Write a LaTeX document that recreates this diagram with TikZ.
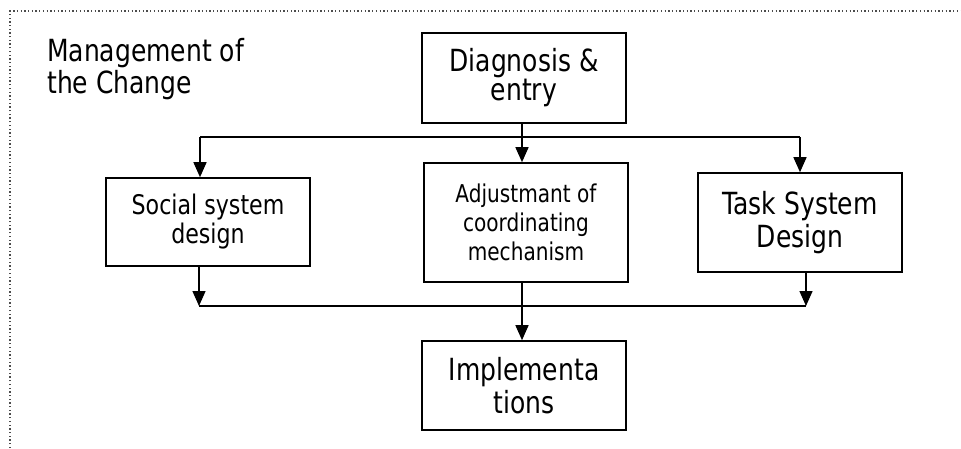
\documentclass[tikz,border=0pt]{standalone}
\usepackage{fontspec}
\setmainfont{DejaVu Sans}[FakeStretch=0.82]
\usetikzlibrary{arrows.meta}
\tikzset{
  box/.style={draw=black, line width=1.6pt, rectangle, inner sep=0pt, align=center, text=black},
  conn/.style={draw=black, line width=1.4pt},
  arr/.style={conn, -{Triangle[width=13pt,length=15pt]}},
  border/.style={draw=black!70, line width=1.3pt, dash pattern=on 1.3pt off 2.4pt},
}
\begin{document}
\begin{tikzpicture}[x=1pt,y=-1pt]
\useasboundingbox (0,0) rectangle (961,448);
\draw[border] (10,448) -- (10,11) -- (961,11);

\node[anchor=north west, inner sep=0pt, align=left, font=\fontsize{30.5}{32}\selectfont] (title) at (47,38) {Management of\\the Change};

\node[box, minimum width=204pt, minimum height=90pt, font=\fontsize{30.5}{29}\selectfont] (diag) at (524,78) {Diagnosis \&\\entry};
\node[box, minimum width=204pt, minimum height=88pt, font=\fontsize{27}{29}\selectfont] (soc) at (208,222) {Social system\\design};
\node[box, minimum width=204pt, minimum height=119pt, font=\fontsize{24.5}{29}\selectfont] (adj) at (526,222.5) {Adjustmant of\\coordinating\\mechanism};
\node[box, minimum width=204pt, minimum height=99pt, font=\fontsize{30.5}{33}\selectfont] (task) at (800,222.5) {Task System\\Design};
\node[box, minimum width=204pt, minimum height=89pt, font=\fontsize{30.5}{33}\selectfont] (impl) at (524,385.5) {Implementa\\tions};

\coordinate (bl) at (200,137);
\coordinate (br) at (800,137);
\coordinate (cl) at (199,306);
\coordinate (cr) at (806,306);
\coordinate (mid) at (522,306);

\draw[arr] (diag.south -| mid) -- (mid |- adj.north);
\draw[conn] (bl) -- (br);
\draw[arr] (bl) -- (bl |- soc.north);
\draw[arr] (br) -- (br |- task.north);

\draw[arr] (cl |- soc.south) -- (cl);
\draw[arr] (cr |- task.south) -- (cr);
\draw[conn] (cl) -- (cr);
\draw[arr] (mid |- adj.south) -- (mid |- impl.north);
\end{tikzpicture}
\end{document}
